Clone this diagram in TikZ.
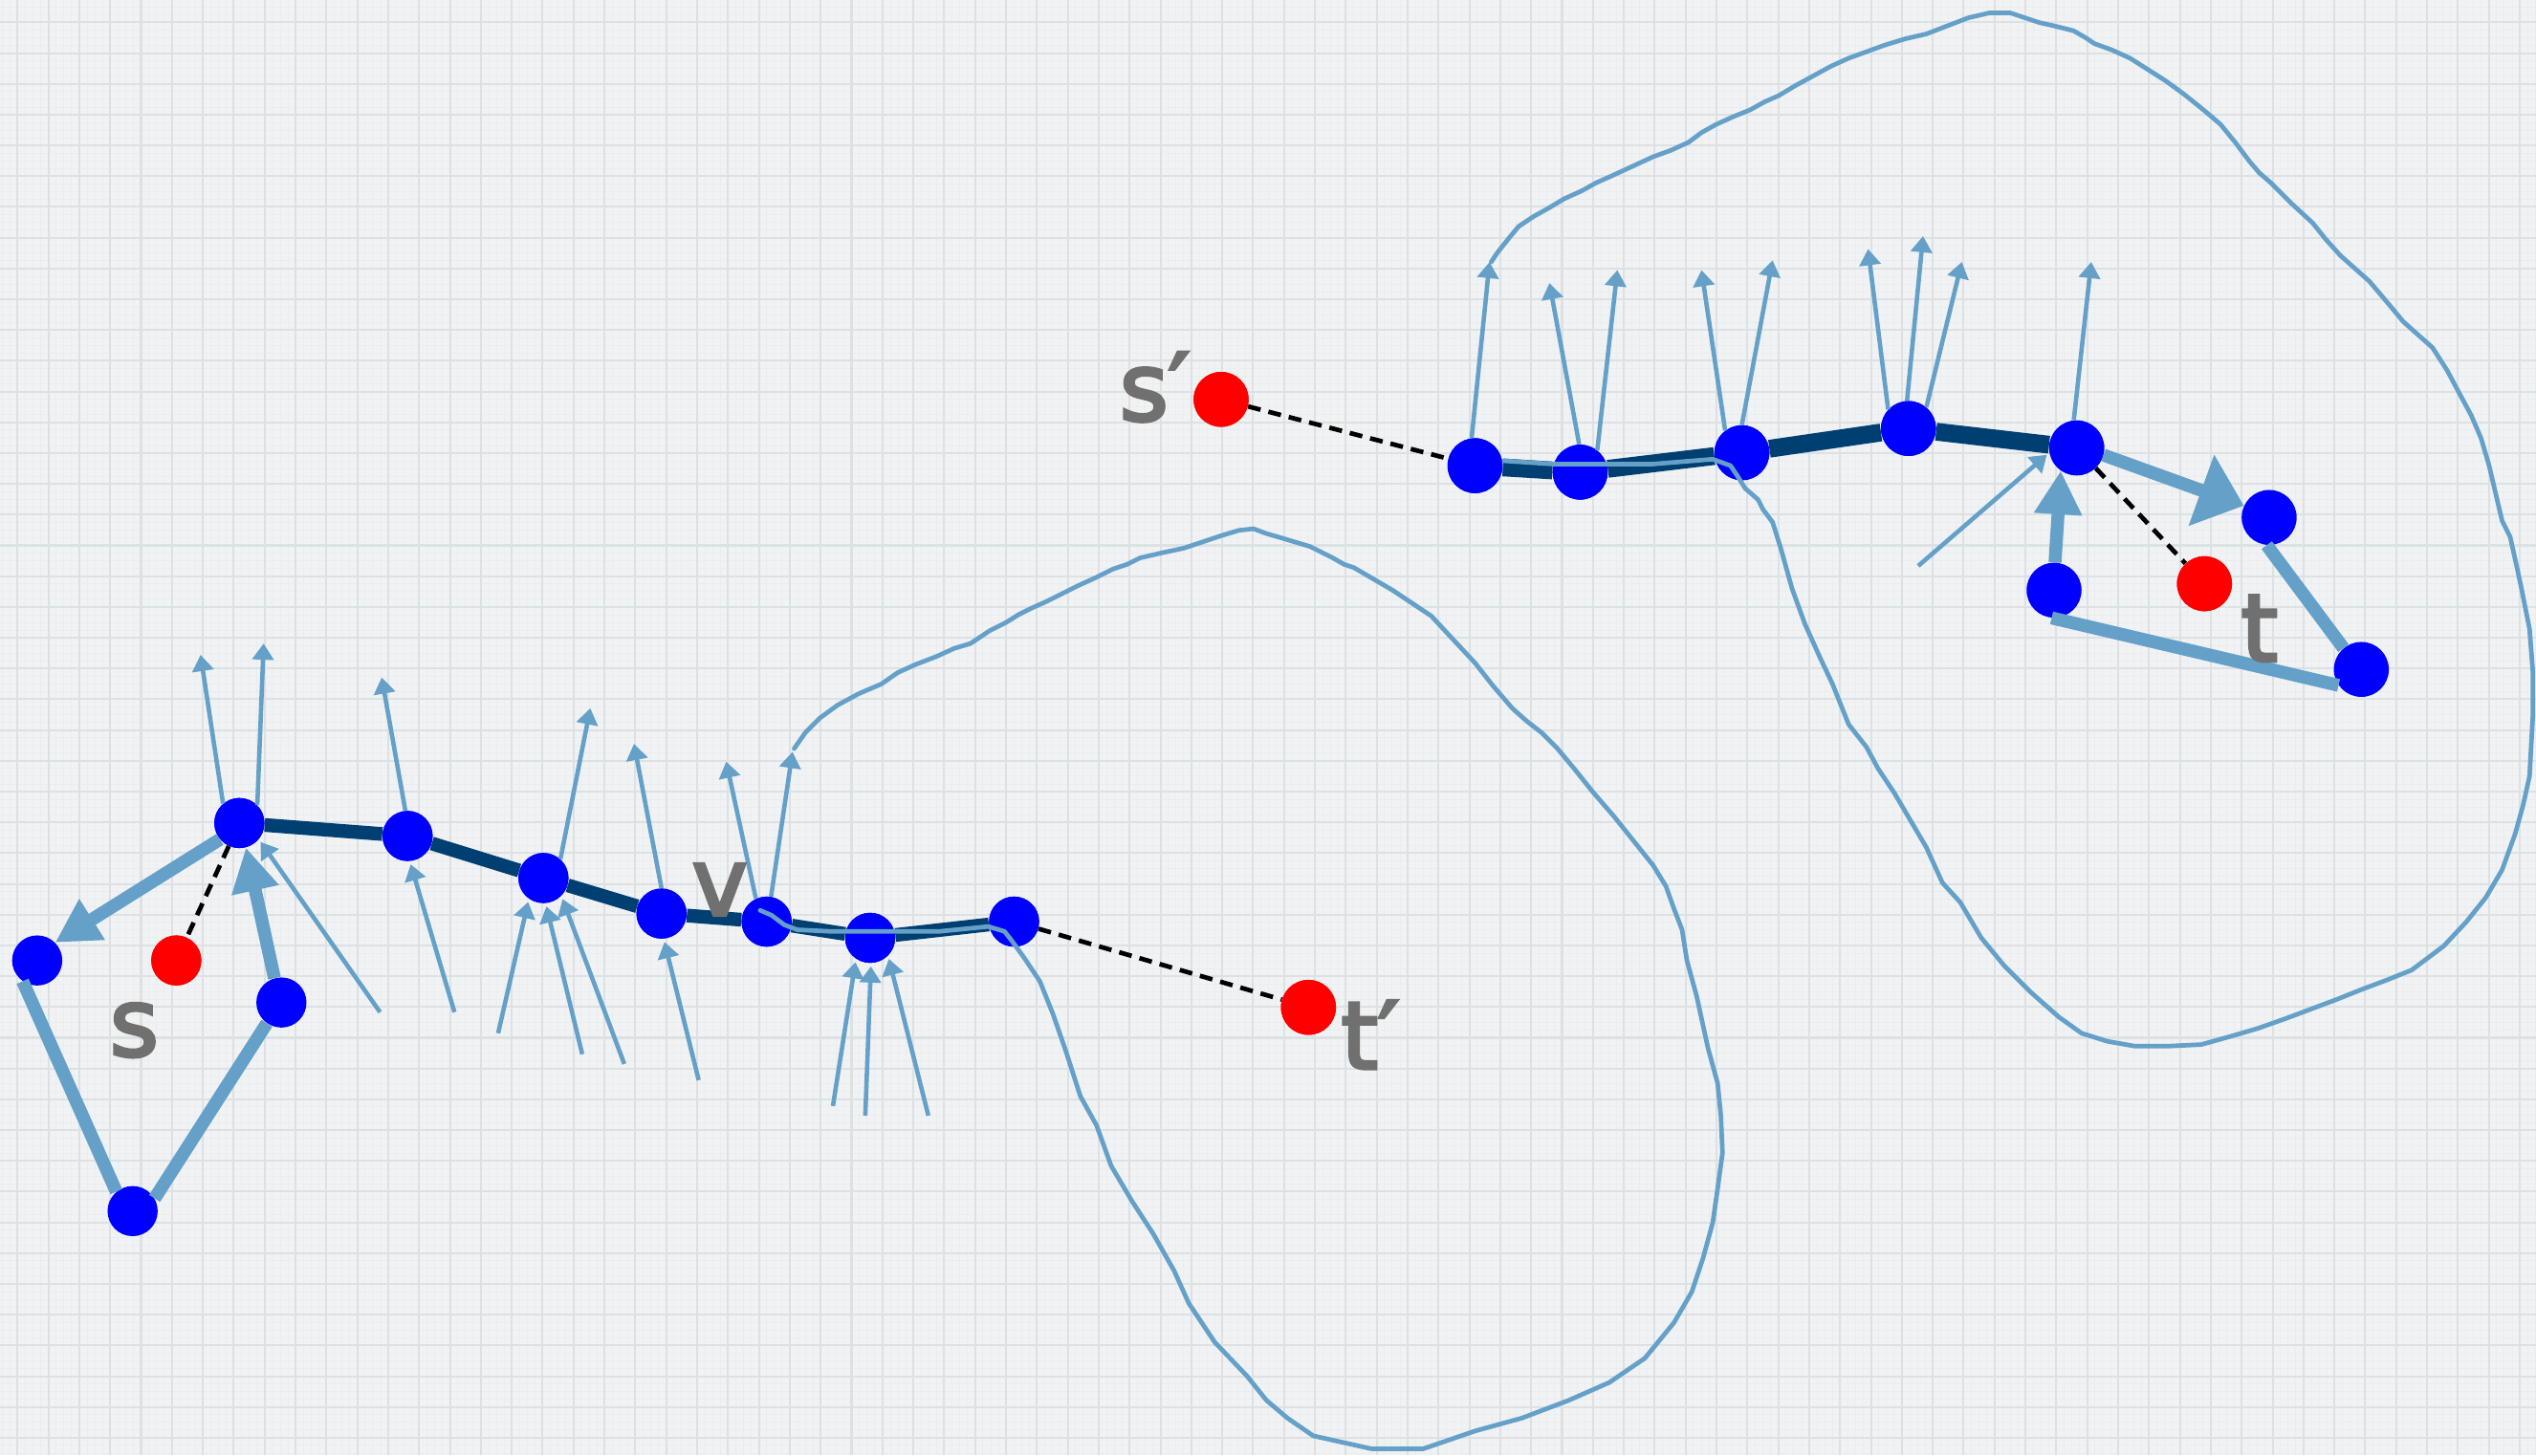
\documentclass[tikz,border=0pt]{standalone}
\usepackage{fontspec}
\setmainfont{DejaVu Sans}
\newfontfamily\labfont{DejaVu Sans}[FakeBold=3.5]
\usetikzlibrary{arrows.meta}
\definecolor{paper}{HTML}{F1F2F3}
\definecolor{gridmaj}{HTML}{DCE1E4}
\definecolor{gridmin}{HTML}{EAEDEF}
\definecolor{lblue}{HTML}{64A0C8}
\definecolor{navy}{HTML}{003F72}
\definecolor{lblgray}{HTML}{707070}
\definecolor{pureblue}{HTML}{0000FF}
\definecolor{purered}{HTML}{FF0000}
\tikzset{
  bnode/.style={circle,fill=pureblue,inner sep=0pt,minimum size=31pt},
  bnodeU/.style={bnode,minimum size=34pt},
  rnode/.style={circle,fill=purered,inner sep=0pt,minimum size=34pt},
  rnodeS/.style={rnode,minimum size=31pt},
  pathline/.style={draw=navy,line width=8.5pt},
  pathlineU/.style={draw=navy,line width=11pt},
  guide/.style={draw=black,line width=2.8pt,dash pattern=on 8pt off 5pt},
  thickedge/.style={draw=lblue,line width=8pt},
  thickarrow/.style={thickedge,-{Triangle[length=27pt,width=28pt]}},
  widearrow/.style={thickedge,-{Triangle[length=28pt,width=45pt]}},
  thinarrow/.style={draw=lblue,line width=2.7pt,-{Triangle[length=10pt,width=13pt]}},
  inarrow/.style={thinarrow,shorten >=2pt},
  contour/.style={draw=lblue,line width=2.8pt,line join=round,line cap=round},
  lab/.style={text=lblgray,font=\labfont\fontsize{58}{58}\selectfont,inner sep=0pt},
}
\begin{document}
\begin{tikzpicture}[x=1pt,y=-1pt]
% paper
\fill[paper] (0,0) rectangle (1568,900);
\useasboundingbox (0,0) rectangle (1568,900);
\foreach \k in {0,...,328} \draw[gridmin,line width=0.4pt] ({1.25+4.775*\k},0) -- ({1.25+4.775*\k},900);
\foreach \k in {0,...,189} \draw[gridmin,line width=0.4pt] (0,{4.29+4.757*\k}) -- (1568,{4.29+4.757*\k});
\foreach \k in {0,...,81} \draw[gridmaj,line width=1.2pt] ({10.8+19.1*\k},0) -- ({10.8+19.1*\k},900);
\foreach \k in {0,...,47} \draw[gridmaj,line width=1.2pt] (0,{13.8+19.03*\k}) -- (1568,{13.8+19.03*\k});

% ---------- nodes ----------
% left cluster
\node[bnode] (A) at (148,509) {};
\node[bnode] (L) at (23,594) {};
\node[rnodeS] (rs) at (109,594) {};
\node[bnode] (R) at (174,620) {};
\node[bnode] (B) at (82,749) {};
% lower path
\node[bnode] (N2) at (252,517) {};
\node[bnode] (N3) at (336,543) {};
\node[bnode] (N4) at (409,565) {};
\node[bnode] (N5) at (474,570) {};
\node[bnode] (N6) at (538,580) {};
\node[bnode] (N7) at (627,570) {};
\node[rnode] (rt2) at (809,623) {};
% upper path
\node[rnode] (rs2) at (755,247) {};
\node[bnodeU] (U1) at (912,288) {};
\node[bnodeU] (U2) at (977,292) {};
\node[bnodeU] (U3) at (1077,280) {};
\node[bnodeU] (U4) at (1180,265) {};
\node[bnodeU] (U5) at (1284,277) {};
% right cluster
\node[bnodeU] (P) at (1403,320) {};
\node[bnodeU] (Q) at (1460,414) {};
\node[bnodeU] (W) at (1270,365) {};
\node[rnode] (rt) at (1363,361) {};

% ---------- dashed guides and dark paths ----------
\draw[guide] (A) -- (rs);
\draw[guide] (N7) -- (rt2);
\draw[guide] (rs2) -- (U1);
\draw[guide] (U5) -- (rt);
\draw[pathline] (A) -- (N2) -- (N3) -- (N4) -- (N5) -- (N6) -- (N7);
\draw[pathlineU] (U1) -- (U2) -- (U3) -- (U4) -- (U5);
% node discs again on top of those lines
\foreach \n in {A,N2,N3,N4,N5,N6,N7}{\fill[pureblue] (\n) circle (15.5pt);}
\foreach \n in {U1,U2,U3,U4,U5}{\fill[pureblue] (\n) circle (17pt);}
\fill[purered] (rs) circle (15.5pt);
\foreach \n in {rt2,rs2,rt}{\fill[purered] (\n) circle (17pt);}

% ---------- thick light-blue edges ----------
\draw[thickarrow] (A.220) -- (L.45);
\draw[thickarrow] (R.106) -- (A.-75);
\draw[thickedge] (L.235) -- (B.130);
\draw[thickedge] (B.30) -- (R.235);
\draw[widearrow] (U5.-15) -- (P.155);
\draw[thickarrow] (W.88) -- (U5.-125);
\draw[thickedge] (P.-95) -- (Q.130);
\draw[thickedge] (W.-95) -- (Q.215);

% ---------- contours ----------
\draw[contour] (491,463) -- (498,453) -- (507,444) -- (518,436) -- (531,429) -- (545,423) -- (555,416) -- (566,411) -- (579,406) -- (590,401) -- (600,398) -- (612,390) -- (622,385) -- (630,380) -- (638,376) -- (647,372) -- (657,367) -- (667,362) -- (678,357) -- (688,352) -- (697,349) -- (705,345) -- (718,342) -- (732,339) -- (744,335) -- (756,331) -- (766,328) -- (775,327) -- (783,330) -- (790,332) -- (800,335) -- (810,338) -- (818,342) -- (824,345) -- (831,349) -- (837,351) -- (849,358) -- (861,365) -- (873,373) -- (885,381) -- (898,395) -- (912,410) -- (923,424) -- (935,438) -- (944,446) -- (953,453) -- (963,463) -- (973,475) -- (985,490) -- (998,505) -- (1010,520) -- (1022,535) -- (1030,548) -- (1035,562) -- (1040,575) -- (1043,594) -- (1049,616) -- (1056,648) -- (1062,670) -- (1064,690) -- (1065,713) -- (1062,735) -- (1059,756) -- (1053,778) -- (1046,799) -- (1035,818) -- (1017,840) -- (995,855) -- (970,866) -- (941,877) -- (912,885) -- (880,896) -- (848,896) -- (812,888) -- (796,877) -- (783,866) -- (771,851) -- (751,830) -- (735,806) -- (726,786) -- (713,763) -- (700,743) -- (687,721) -- (678,696) -- (668,678) -- (659,650) -- (651,627) -- (643,607) -- (633,592) -- (625,581) -- (621,576) -- (611,573) -- (581,576) -- (552,576) -- (513,576) -- (493,575) -- (485,572) -- (477,566) -- (470,563);
\draw[contour] (922,162) -- (926,156) -- (930,151) -- (934,146) -- (939,140) -- (948,134) -- (957,129) -- (967,123) -- (978,118) -- (987,113) -- (996,109) -- (1009,103) -- (1022,97) -- (1033,93) -- (1044,88) -- (1052,82) -- (1061,77) -- (1072,72) -- (1082,68) -- (1091,63) -- (1100,59) -- (1110,53) -- (1121,47) -- (1132,41) -- (1143,36) -- (1154,32) -- (1165,28) -- (1178,24) -- (1191,21) -- (1204,16) -- (1217,11) -- (1230,8) -- (1243,8) -- (1252,11) -- (1261,14) -- (1270,16) -- (1282,19) -- (1289,23) -- (1295,27) -- (1306,31) -- (1317,36) -- (1328,43) -- (1339,50) -- (1350,58) -- (1360,66) -- (1366,71) -- (1373,77) -- (1382,88) -- (1391,100) -- (1397,107) -- (1404,113) -- (1417,126) -- (1430,138) -- (1438,148) -- (1447,158) -- (1456,166) -- (1465,174) -- (1476,187) -- (1486,199) -- (1495,207) -- (1504,215) -- (1513,229) -- (1521,244) -- (1528,257) -- (1534,271) -- (1539,288) -- (1543,305) -- (1547,322) -- (1552,332) -- (1556,350) -- (1559,364) -- (1564,389) -- (1566,415) -- (1566,443) -- (1564,480) -- (1560,498) -- (1555,516) -- (1547,538) -- (1537,555) -- (1525,570) -- (1511,585) -- (1491,600) -- (1476,606) -- (1460,612) -- (1445,618) -- (1429,624) -- (1413,630) -- (1396,636) -- (1379,641) -- (1361,646) -- (1340,647) -- (1320,647) -- (1303,644) -- (1287,639) -- (1273,629) -- (1256,614) -- (1239,597) -- (1225,580) -- (1212,558) -- (1201,546) -- (1191,524) -- (1181,507) -- (1171,490) -- (1161,475) -- (1154,462) -- (1143,448) -- (1133,423) -- (1125,406) -- (1116,386) -- (1108,364) -- (1101,339) -- (1096,323) -- (1090,315) -- (1087,309) -- (1079,302) -- (1074,294) -- (1070,288) -- (1059,284) -- (1022,287) -- (960,287) -- (930,285);

% ---------- thin arrows ----------
\coordinate (ta1) at (124,405);
\coordinate (ta2) at (163,398);
\coordinate (tb1) at (236,419);
\coordinate (tc1) at (365,438);
\coordinate (td1) at (392,460);
\coordinate (te1) at (449,471);
\coordinate (te2) at (490,465);
\coordinate (tu1) at (921,162);
\coordinate (tu2) at (958,175);
\coordinate (tu3) at (1000,167);
\coordinate (tu4) at (1052,167);
\coordinate (tu5) at (1096,161);
\coordinate (tu6) at (1155,154);
\coordinate (tu7) at (1189,146);
\coordinate (tu8) at (1213,162);
\coordinate (tu9) at (1293,162);
\coordinate (fa1) at (235,626);
\coordinate (fb1) at (281,626);
\coordinate (fc1) at (308,639);
\coordinate (fc2) at (360,652);
\coordinate (fc3) at (386,658);
\coordinate (fd1) at (432,668);
\coordinate (ff1) at (515,684);
\coordinate (ff2) at (535,690);
\coordinate (ff3) at (574,690);
\coordinate (fu1) at (1186,350);

\draw[thinarrow] (A.130) -- (ta1);
\draw[thinarrow] (A.45) -- (ta2);
\draw[thinarrow] (N2.95) -- (tb1);
\draw[thinarrow] (N3.48) -- (tc1);
\draw[thinarrow] (N4.90) -- (td1);
\draw[thinarrow] (N5.115) -- (te1);
\draw[thinarrow] (N5.80) -- (te2);
\draw[thinarrow] (U1.97) -- (tu1);
\draw[thinarrow] (U2.92) -- (tu2);
\draw[thinarrow] (U2.52) -- (tu3);
\draw[thinarrow] (U3.127) -- (tu4);
\draw[thinarrow] (U3.90) -- (tu5);
\draw[thinarrow] (U4.137) -- (tu6);
\draw[thinarrow] (U4.93) -- (tu7);
\draw[thinarrow] (U4.50) -- (tu8);
\draw[thinarrow] (U5.96) -- (tu9);
\draw[inarrow] (fa1) -- (A.-40);
\draw[inarrow] (fb1) -- (N2.-85);
\draw[inarrow] (fc1) -- (N3.-125);
\draw[inarrow] (fc2) -- (N3.-85);
\draw[inarrow] (fc3) -- (N3.-45);
\draw[inarrow] (fd1) -- (N4.-85);
\draw[inarrow] (ff1) -- (N6.-124);
\draw[inarrow] (ff2) -- (N6.-88);
\draw[inarrow] (ff3) -- (N6.-45);
\draw[inarrow] (fu1) -- (U5.190);

% ---------- labels ----------
\node[lab,anchor=base] (ls) at (83,653) {s};
\node[lab,anchor=base west] (ls2) at (692,260) {s′};
\node[lab,anchor=base] (lt) at (1397,409) {t};
\node[lab,anchor=base west] (lt2) at (829,661) {t′};
\node[lab,anchor=base] (lv) at (445,566) {v};
\end{tikzpicture}
\end{document}
